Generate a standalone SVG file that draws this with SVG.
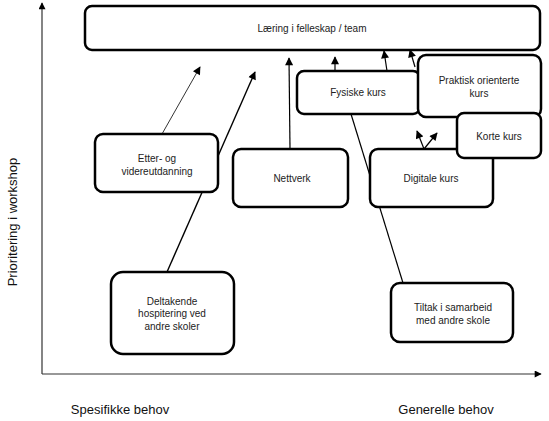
<svg xmlns="http://www.w3.org/2000/svg" width="549" height="421" viewBox="0 0 549 421">
<defs>
<marker id="ah" viewBox="0 0 10 10" refX="9" refY="5" markerWidth="10" markerHeight="8" markerUnits="userSpaceOnUse" orient="auto">
<path d="M0,0 L10,5 L0,10 z" fill="#000"/>
</marker>
<marker id="axh" viewBox="0 0 10 10" refX="9" refY="5" markerWidth="9" markerHeight="7" markerUnits="userSpaceOnUse" orient="auto">
<path d="M0,0 L10,5 L0,10 z" fill="#000"/>
</marker>
</defs>
<style>
.box{fill:#fff;stroke:#000;stroke-width:2.5}
.t{font-family:"Liberation Sans",Arial,sans-serif;font-size:10px;fill:#222;text-anchor:middle}
.ax{font-family:"Liberation Sans",Arial,sans-serif;font-size:13px;fill:#111;text-anchor:middle}
.c{stroke:#000;fill:none;stroke-width:1.2;marker-end:url(#ah)}
.axis{stroke:#333;stroke-width:1.2;fill:none;marker-end:url(#axh)}
</style>
<rect width="549" height="421" fill="#fff"/>
<g id="axes">
<line class="axis" x1="42" y1="374" x2="42" y2="3"/>
<line class="axis" x1="42" y1="374" x2="541" y2="374"/>
<text class="ax" x="120" y="414">Spesifikke behov</text>
<text class="ax" x="446" y="414">Generelle behov</text>
<text class="ax" transform="translate(17,222) rotate(-90)">Prioritering i workshop</text>
</g>
<g id="connectors">
<line class="c" x1="162" y1="134" x2="200" y2="67" style="stroke-width:0.8"/>
<line class="c" x1="167" y1="272" x2="255" y2="72" style="stroke-width:1.4"/>
<line class="c" x1="290" y1="149" x2="289" y2="58"/>
<line class="c" x1="335" y1="71" x2="335" y2="57"/>
<line class="c" x1="387" y1="71" x2="384" y2="51"/>
<line class="c" x1="415" y1="67" x2="410" y2="50"/>
<line class="c" x1="424" y1="149" x2="417" y2="131"/>
<line class="c" x1="424" y1="149" x2="437" y2="133"/>
<line x1="351" y1="114" x2="403" y2="283" stroke="#000" stroke-width="1.2"/>
</g>
<g id="laering">
<rect class="box" x="85" y="6" width="455" height="44" rx="7"/>
<text class="t" x="312" y="32">Læring i felleskap / team</text>
</g>
<g id="fysiske">
<rect class="box" x="297" y="71" width="123" height="43" rx="7"/>
<text class="t" x="358" y="96">Fysiske kurs</text>
</g>
<g id="praktisk">
<rect class="box" x="418" y="55" width="123" height="62" rx="8"/>
<text class="t" x="479" y="84">Praktisk orienterte</text>
<text class="t" x="479" y="97">kurs</text>
</g>
<g id="nettverk">
<rect class="box" x="233" y="149" width="115" height="58" rx="8"/>
<text class="t" x="292" y="182">Nettverk</text>
</g>
<g id="digitale">
<rect class="box" x="370" y="149" width="123" height="58" rx="8"/>
<text class="t" x="431" y="182">Digitale kurs</text>
</g>
<g id="korte">
<rect class="box" x="457" y="113" width="84" height="45" rx="7"/>
<text class="t" x="499" y="140">Korte kurs</text>
</g>
<g id="etter">
<rect class="box" x="95" y="134" width="123" height="58" rx="8"/>
<text class="t" x="157" y="162">Etter- og</text>
<text class="t" x="157" y="175">videreutdanning</text>
</g>
<g id="deltakende">
<rect class="box" x="111" y="272" width="123" height="82" rx="12"/>
<text class="t" x="172" y="305">Deltakende</text>
<text class="t" x="172" y="317">hospitering ved</text>
<text class="t" x="172" y="330">andre skoler</text>
</g>
<g id="tiltak">
<rect class="box" x="391" y="283" width="122" height="59" rx="9"/>
<text class="t" x="453" y="311">Tiltak i samarbeid</text>
<text class="t" x="453" y="324">med andre skole</text>
</g>
</svg>
